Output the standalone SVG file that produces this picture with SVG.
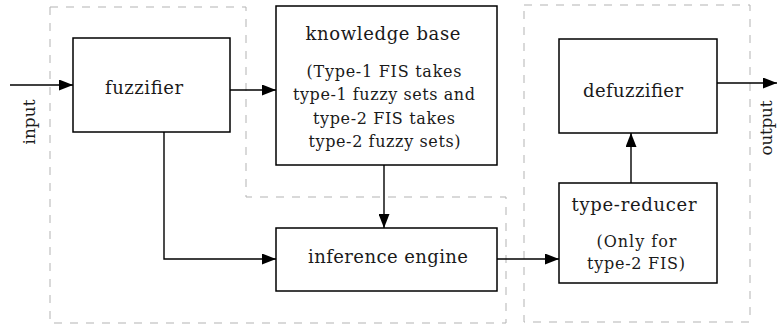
<svg xmlns="http://www.w3.org/2000/svg" width="777" height="329" viewBox="0 0 777 329">
  <defs>
    <style>
      .region { fill: none; stroke: #b3b3b3; stroke-width: 1; stroke-dasharray: 8 8; }
      .box { fill: #ffffff; stroke: #000000; stroke-width: 1.5; }
      .conn { fill: none; stroke: #000000; stroke-width: 1.4; }
      text { font-family: 'DejaVu Serif', 'Liberation Serif', serif; fill: #1a1a1a; text-anchor: middle; }
      .title { font-size: 18px; }
      .sub { font-size: 16px; }
      .side { font-size: 17px; }
    </style>
    <marker id="arrow" markerUnits="userSpaceOnUse" markerWidth="14" markerHeight="11" refX="14" refY="5.5" orient="auto">
      <path d="M0,0 L14,5.5 L0,11 Z" fill="#000000"/>
    </marker>
  </defs>

  <g id="regions">
    <path class="region" d="M50,7 H246 V197 H506 V323 H50 Z"/>
    <rect class="region" x="524" y="5" width="226" height="317"/>
  </g>

  <g id="connectors">
    <path class="conn" d="M10,85 H73" marker-end="url(#arrow)"/>
    <path class="conn" d="M230,90 H276" marker-end="url(#arrow)"/>
    <path class="conn" d="M164,132 V259 H276" marker-end="url(#arrow)"/>
    <path class="conn" d="M384,165 V228" marker-end="url(#arrow)"/>
    <path class="conn" d="M497,259 H559" marker-end="url(#arrow)"/>
    <path class="conn" d="M631,183 V133" marker-end="url(#arrow)"/>
    <path class="conn" d="M717,83 H777" marker-end="url(#arrow)"/>
  </g>

  <g id="input-label">
    <text class="side" transform="translate(35,122) rotate(-90)" x="0" y="0" textLength="45">input</text>
  </g>

  <g id="fuzzifier">
    <rect class="box" x="73" y="38" width="157" height="94"/>
    <text class="title" x="144" y="94" textLength="78">fuzzifier</text>
  </g>

  <g id="knowledge-base">
    <rect class="box" x="276" y="6" width="221" height="159"/>
    <text class="title" x="383" y="39.5" textLength="155">knowledge base</text>
    <text class="sub" x="384" y="77" textLength="155">(Type-1 FIS takes</text>
    <text class="sub" x="384" y="100.3" textLength="182">type-1 fuzzy sets and</text>
    <text class="sub" x="384" y="123.6" textLength="142">type-2 FIS takes</text>
    <text class="sub" x="384.5" y="147" textLength="152">type-2 fuzzy sets)</text>
  </g>

  <g id="inference-engine">
    <rect class="box" x="276" y="228" width="221" height="63"/>
    <text class="title" x="388" y="263.3" textLength="160">inference engine</text>
  </g>

  <g id="type-reducer">
    <rect class="box" x="559" y="183" width="158" height="100"/>
    <text class="title" x="634" y="210.5" textLength="125">type-reducer</text>
    <text class="sub" x="636.5" y="246.7" textLength="80">(Only for</text>
    <text class="sub" x="636" y="269.3" textLength="98">type-2 FIS)</text>
  </g>

  <g id="defuzzifier">
    <rect class="box" x="559" y="39" width="158" height="94"/>
    <text class="title" x="633" y="96.5" textLength="100">defuzzifier</text>
  </g>

  <g id="output-label">
    <text class="side" transform="translate(772,128) rotate(-90)" x="0" y="0" textLength="55">output</text>
  </g>
</svg>
